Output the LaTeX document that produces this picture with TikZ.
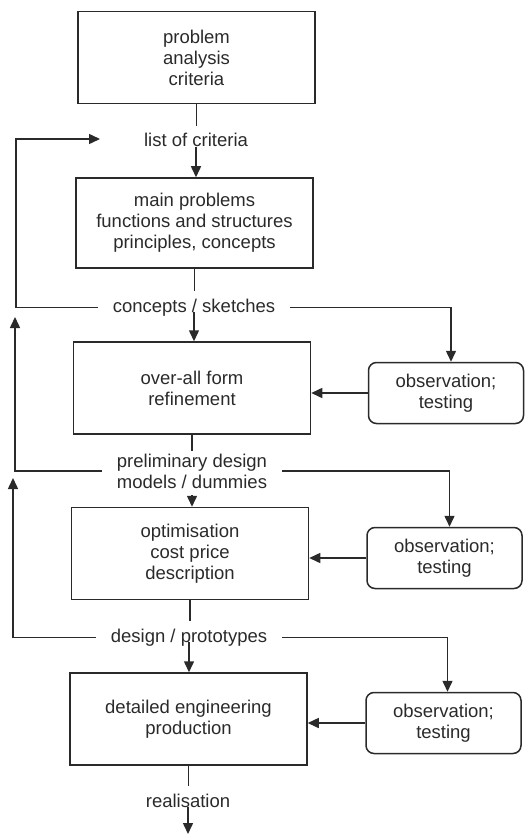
\documentclass[tikz,border=0pt]{standalone}
\usepackage{fontspec}
\setmainfont{Liberation Sans}
\usetikzlibrary{arrows.meta}
\definecolor{ink}{HTML}{2A2A2A}
\begin{document}
\begin{tikzpicture}[x=1pt,y=-1pt,
  every node/.style={font=\fontsize{18.5}{21}\selectfont, text=ink},
  box/.style={draw=ink, rectangle, minimum width=237pt, minimum height=92pt, align=center, line width=1.5pt},
  obs/.style={draw=ink, rounded corners=8pt, minimum width=155pt, minimum height=61pt, align=center, line width=1.5pt},
  lbl/.style={align=center, inner xsep=15pt, inner ysep=7pt, text height=13.5pt, text depth=4pt},
  ln/.style={line width=1.5pt, draw=ink},
  arr/.style={ln, -{Triangle[length=11pt,width=10pt]}}]
\useasboundingbox (0,0) rectangle (530,834);

\node[box] (b1) at (196.5,57.5) {problem\\analysis\\criteria};
\node[lbl, anchor=base] (t1) at (196,147) {list of criteria};
\node[box, minimum height=90pt] (b2) at (194.5,223) {main problems\\functions and structures\\principles, concepts};
\node[lbl, anchor=base] (t2) at (194,312) {concepts / sketches};
\node[box] (b3) at (192,388) {over-all form\\refinement};
\node[obs] (o1) at (446,393) {observation;\\testing};
\node[align=center, inner xsep=15pt, inner ysep=3pt] (t3) at (192,471) {preliminary design\\models / dummies};
\node[box] (b4) at (190,553.5) {optimisation\\cost price\\description};
\node[obs] (o2) at (444.5,558) {observation;\\testing};
\node[lbl, anchor=base] (t4) at (189,642) {design / prototypes};
\node[box] (b5) at (188.5,719) {detailed engineering\\production};
\node[obs] (o3) at (443.5,723) {observation;\\testing};
\node[lbl, anchor=base] (t5) at (188,807) {realisation};
\coordinate (end) at (188,834);

\coordinate (L1) at (16,139);
\coordinate (A1) at (100,139);
\coordinate (L2) at (15,317);
\coordinate (L3) at (13,478);

% main chain
\draw[ln] (b1.south) -- (b1.south |- t1.north);
\draw[arr] (t1.base) -- (t1.base |- b2.north);
\draw[ln] (b2.south) -- (b2.south |- t2.north);
\draw[arr] (t2.base) -- (t2.base |- b3.north);
\draw[ln] (b3.south) -- (b3.south |- t3.north);
\draw[arr] ([yshift=-4pt]t3.south) -- (t3.south |- b4.north);
\draw[ln] (b4.south) -- (b4.south |- t4.north);
\draw[arr] (t4.base) -- (t4.base |- b5.north);
\draw[ln] (b5.south) -- (b5.south |- t5.north);
\draw[arr] (t5.base) -- (end);

% feedback loops
\draw[arr] (t2.west) -| (L1) -- (A1);
\draw[arr] (t3.west) -| (L2);
\draw[arr] (t4.west) -| (L3);

% observation branches
\draw[arr] (t2.east) -| ([xshift=5pt]o1.north);
\draw[arr] (t3.east) -| ([xshift=5pt]o2.north);
\draw[arr] (t4.east) -| ([xshift=4pt]o3.north);
\draw[arr] (o1.west) -- (o1.west -| b3.east);
\draw[arr] (o2.west) -- (o2.west -| b4.east);
\draw[arr] (o3.west) -- (o3.west -| b5.east);
\end{tikzpicture}
\end{document}
